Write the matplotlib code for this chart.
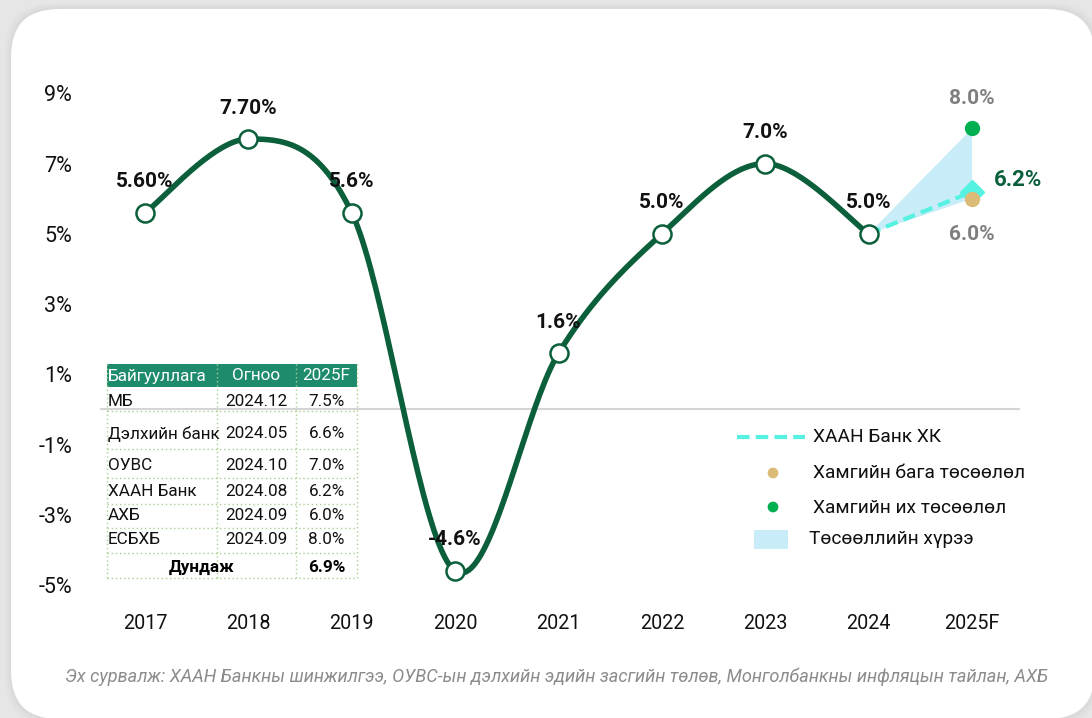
import numpy as np
import matplotlib.pyplot as plt
from matplotlib.patches import FancyBboxPatch, Rectangle, Polygon

plt.rcParams['font.family'] = ['Roboto', 'DejaVu Sans']

# ---- data ----
years = ['2017', '2018', '2019', '2020', '2021', '2022', '2023', '2024', '2025F']
growth = [5.6, 7.7, 5.6, -4.6, 1.6, 5.0, 7.0, 5.0]
growth_labels = ['5.60%', '7.70%', '5.6%', '-4.6%', '1.6%', '5.0%', '7.0%', '5.0%']
khan_2025 = 6.2
min_2025 = 6.0
max_2025 = 8.0
yticks = [-5, -3, -1, 1, 3, 5, 7, 9]

table_header = ['Байгууллага', 'Огноо', '2025F']
table_org = ['МБ', 'Дэлхийн банк', 'ОУВС', 'ХААН Банк', 'АХБ', 'ЕСБХБ']
table_date = ['2024.12', '2024.05', '2024.10', '2024.08', '2024.09', '2024.09']
table_fcst = ['7.5%', '6.6%', '7.0%', '6.2%', '6.0%', '8.0%']
avg_label = 'Дундаж'
avg_value = '6.9%'

legend_labels = ['ХААН Банк ХК', 'Хамгийн бага төсөөлөл', 'Хамгийн их төсөөлөл', 'Төсөөллийн хүрээ']
source = ('Эх сурвалж: ХААН Банкны шинжилгээ, ОУВС-ын дэлхийн эдийн засгийн төлөв, '
          'Монголбанкны инфляцын тайлан, АХБ')

dark_green = '#0b5f3a'
cyan = '#55f2e2'
tan = '#dcbb78'
bright_green = '#00b050'
fan_blue = '#c8ecf8'
dot_green = '#a9d18e'


def smooth(xs, ys, n=40):
    # excel-like smoothed line (catmull-rom as cubic bezier)
    pts = np.column_stack([xs, ys]).astype(float)
    p = np.vstack([pts[0], pts, pts[-1]])
    t = np.linspace(0, 1, n)[:, None]
    out = []
    for i in range(1, len(p) - 2):
        p0, p1, p2, p3 = p[i - 1], p[i], p[i + 1], p[i + 2]
        c1 = p1 + (p2 - p0) / 6
        c2 = p2 - (p3 - p1) / 6
        out.append((1 - t) ** 3 * p1 + 3 * (1 - t) ** 2 * t * c1 + 3 * (1 - t) * t ** 2 * c2 + t ** 3 * p2)
    s = np.vstack(out)
    return s[:, 0], s[:, 1]


fig = plt.figure(figsize=(10.92, 7.18), dpi=100)
fig.patch.set_facecolor('#e6e6e6')

# background / card layer in pixel units (top-left origin)
bg = fig.add_axes([0, 0, 1, 1])
bg.set_xlim(0, 1092)
bg.set_ylim(718, 0)
bg.axis('off')
for k, a in [(6, 0.04), (4, 0.05), (2, 0.07)]:
    bg.add_patch(FancyBboxPatch((59 - k, 57 - k), 988 + 2 * k, 614 + 2 * k,
                                boxstyle='round,pad=48', fc='#9a9a9a', ec='none', alpha=a))
bg.add_patch(FancyBboxPatch((59, 57), 988, 614, boxstyle='round,pad=48', fc='white', ec='none'))

# table
tfs = 12.3
col_x = [107, 217, 296, 357]
bg.add_patch(Rectangle((col_x[0], 364), col_x[-1] - col_x[0], 23, fc='#1e8c6c', ec='none'))
bg.text(col_x[0] + 1, 376, table_header[0], color='white', fontsize=tfs, va='center', ha='left')
bg.text((col_x[1] + col_x[2]) / 2, 376, table_header[1], color='white', fontsize=tfs, va='center', ha='center')
bg.text((col_x[2] + col_x[3]) / 2, 376, table_header[2], color='white', fontsize=tfs, va='center', ha='center')
row_y = [402, 434, 465, 491, 516, 540]
row_lines = [387, 411, 449, 478, 504, 528, 553, 578]
for i, (org, dt, fc) in enumerate(zip(table_org, table_date, table_fcst)):
    bg.text(col_x[0] + 1, row_y[i], org, fontsize=tfs, va='center', ha='left', color='#111111')
    bg.text((col_x[1] + col_x[2]) / 2, row_y[i], dt, fontsize=tfs, va='center', ha='center', color='#111111')
    bg.text((col_x[2] + col_x[3]) / 2, row_y[i], fc, fontsize=tfs, va='center', ha='center', color='#111111')
bg.text((col_x[0] + col_x[2]) / 2, 567, avg_label, fontsize=tfs, va='center', ha='center', fontweight='bold')
bg.text((col_x[2] + col_x[3]) / 2, 567, avg_value, fontsize=tfs, va='center', ha='center', fontweight='bold')
for yl in row_lines[1:]:
    bg.plot([col_x[0], col_x[-1]], [yl, yl], color=dot_green, lw=1, ls=(0, (1, 2)))
for xl in col_x:
    bg.plot([xl, xl], [364, 578], color=dot_green, lw=1, ls=(0, (1, 2)))

# legend
lfs = 13.8
bg.plot([737, 805], [437, 437], color=cyan, lw=3, ls=(0, (3, 1.5)))
bg.text(813, 437, legend_labels[0], fontsize=lfs, va='center', ha='left', color='#111111')
bg.scatter([773], [473], s=60, color=tan, edgecolors='none')
bg.text(813, 473, legend_labels[1], fontsize=lfs, va='center', ha='left', color='#111111')
bg.scatter([773], [507], s=60, color=bright_green, edgecolors='none')
bg.text(813, 508, legend_labels[2], fontsize=lfs, va='center', ha='left', color='#111111')
bg.add_patch(Rectangle((754, 530), 34, 19, fc=fan_blue, ec='none'))
bg.text(809, 539, legend_labels[3], fontsize=lfs, va='center', ha='left', color='#111111')

bg.text(65, 677, source, fontsize=13.1, style='italic', color='#8c8c8c', va='center', ha='left')

# main chart
ax = fig.add_axes([100 / 1092, 1 - 600 / 718, 920 / 1092, 540 / 718])
ax.patch.set_alpha(0)
for sp in ax.spines.values():
    sp.set_visible(False)
ax.set_xlim(-0.435, 8.464)
ax.set_ylim(-5.426, 9.95)
ax.set_xticks(range(len(years)))
ax.set_xticklabels(years, fontsize=14.2, color='#111111')
ax.set_yticks(yticks)
ax.set_yticklabels(['%d%%' % v for v in yticks], fontsize=15.5, color='#111111')
ax.tick_params(axis='x', length=0, pad=10)
ax.tick_params(axis='y', length=0, pad=20)
ax.axhline(0, color='#d4d4d4', lw=1.5, zorder=1)

x = np.arange(len(growth))
sx, sy = smooth(x, growth)
ax.plot(sx, sy, color=dark_green, lw=4, solid_capstyle='round', zorder=3)
for xi, yi, lab in zip(x, growth, growth_labels):
    ax.annotate(lab, (xi, yi), xytext=(0, 31), textcoords='offset pixels', ha='center', va='center',
                fontsize=15, fontweight='bold', color='#111111', zorder=6)

# 2025 forecast range
x25 = len(growth)
x24 = len(growth) - 1
ax.add_patch(Polygon([[x24, growth[-1]], [x25, max_2025], [x25, min_2025]], closed=True,
                     fc=fan_blue, ec='none', zorder=2))
ax.plot([x24, x25], [growth[-1], khan_2025], color=cyan, lw=3, ls=(0, (3, 1.5)), zorder=4)
ax.plot([x25], [khan_2025], 'D', ms=12, color=cyan, zorder=4)
ax.plot([x25], [min_2025], 'o', ms=10, color=tan, zorder=5)
ax.plot([x25], [max_2025], 'o', ms=10, color=bright_green, zorder=5)
ax.annotate('%.1f%%' % max_2025, (x25, max_2025), xytext=(0, 30), textcoords='offset pixels',
            ha='center', va='center', fontsize=15, fontweight='bold', color='#7f7f7f')
ax.annotate('%.1f%%' % min_2025, (x25, min_2025), xytext=(0, -36), textcoords='offset pixels',
            ha='center', va='center', fontsize=15, fontweight='bold', color='#7f7f7f')
ax.annotate('%.1f%%' % khan_2025, (x25, khan_2025), xytext=(46, 12), textcoords='offset pixels',
            ha='center', va='center', fontsize=16, fontweight='bold', color=dark_green)
ax.plot(x, growth, 'o', ms=13, mfc='white', mec=dark_green, mew=1.8, zorder=5)

fig.savefig('out.png', dpi=100, facecolor=fig.get_facecolor())
